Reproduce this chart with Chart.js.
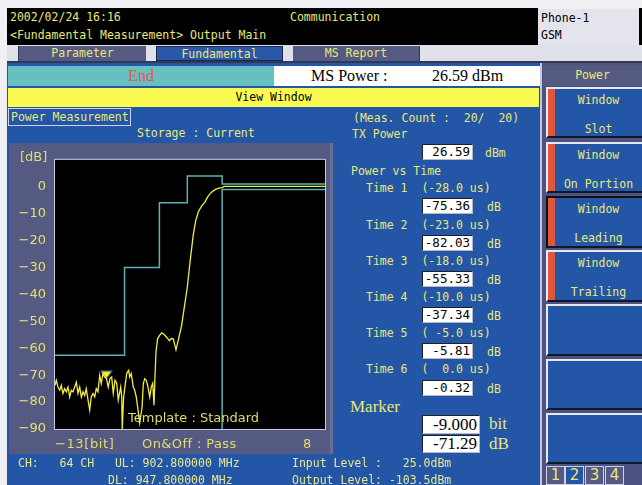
<!DOCTYPE html>
<html>
<head>
<meta charset="utf-8">
<title>Power vs Time</title>
<script src="https://cdn.jsdelivr.net/npm/chart.js@4"></script>
<style>
  html, body { margin: 0; padding: 0; }
  body {
    width: 642px; height: 485px; position: relative; overflow: hidden;
    background: #f0f0f4;
    font-family: "DejaVu Sans Mono", "Liberation Mono", monospace;
    font-size: 11.5px; line-height: 14px;
  }
  .a { position: absolute; white-space: pre; }
  .yl { color: #e8e87a; }
  .box { position: absolute; background: #fff; color: #000; text-align: right;
         box-sizing: border-box; border-top: 1px solid #202020; border-left: 1px solid #202020;
         border-right: 1px solid #b8b8c8; border-bottom: 1px solid #b8b8c8;
         padding-right: 2px; font-size: 12.5px; line-height: 14px; }
  .tab { position: absolute; top: 46px; height: 15px; line-height: 15px; text-align: center;
         color: #e8e87a; box-sizing: border-box; }
  .btn { position: absolute; left: 546px; width: 96px; box-sizing: border-box; background: #2356a6;
         border-top: 2px solid #e8e8f0; border-left: 2px solid #e8e8f0; border-bottom: 2px solid #101828; }
  .btn .strip { position: absolute; left: 0; top: 0; bottom: 0; width: 7px; background: #e0583c; }
  .btn .t1, .btn .t2 { position: absolute; left: 7px; right: 0; text-align: center; color: #e8e87a; }
  .btn .t1 { top: 4px; }
  .btn .t2 { top: 33px; }
  .pg { position: absolute; top: 466px; width: 19px; height: 19px; box-sizing: border-box;
        border: 1px solid #d0d0e0; color: #e8e87a; text-align: center;
        font-family: "DejaVu Sans", sans-serif; font-size: 15px; line-height: 17px; }
  .cl { position: absolute; white-space: pre; color: #e0dc70;
        font-family: "DejaVu Sans", sans-serif; font-size: 13px; line-height: 16px; }
</style>
</head>
<body>

<!-- header -->
<div class="a" style="left:7px;top:8px;width:531px;height:37px;background:#000;"></div>
<div class="a yl" style="left:10px;top:10px;">2002/02/24 16:16</div>
<div class="a yl" style="left:290px;top:10px;">Communication</div>
<div class="a yl" style="left:10px;top:28px;">&lt;Fundamental Measurement&gt; Output Main</div>
<div class="a" style="left:538px;top:9px;width:101px;height:36px;background:#e4e4ec;"></div>
<div class="a" style="left:639px;top:8px;width:3px;height:37px;background:#000;"></div>
<div class="a" style="left:541px;top:11px;color:#000;font-size:11.5px;">Phone-1</div>
<div class="a" style="left:541px;top:28px;color:#000;font-size:11.5px;">GSM</div>

<!-- tab row -->
<div class="a" style="left:7px;top:45px;width:635px;height:17px;background:#e0e0ea;"></div>
<div class="tab" style="left:18px;width:128px;background:#545a82;border-left:1px solid #30345a;">Parameter</div>
<div class="tab" style="left:156px;width:127px;background:#2a58a8;border:1px solid #1a2650;">Fundamental</div>
<div class="tab" style="left:293px;width:127px;background:#545a82;border-right:1px solid #30345a;">MS Report</div>
<div class="a" style="left:7px;top:61px;width:635px;height:2px;background:#34384e;"></div>

<!-- main areas -->
<div class="a" style="left:7px;top:63px;width:535px;height:422px;background:#2356a6;"></div>
<div class="a" style="left:540px;top:63px;width:102px;height:422px;background:#4c5282;"></div>
<div class="a" style="left:540px;top:63px;width:2px;height:422px;background:#c8c8dc;"></div>

<!-- status line -->
<div class="a" style="left:8px;top:66px;width:266px;height:20px;background:#66c0c0;"></div>
<div class="a" style="left:8px;top:66px;width:266px;height:20px;line-height:20px;text-align:center;color:#e05a48;font-family:'Liberation Serif',serif;font-size:16px;">End</div>
<div class="a" style="left:274px;top:66px;width:266px;height:20px;background:#fff;"></div>
<div class="a" style="left:311px;top:66px;line-height:20px;color:#000;font-family:'Liberation Serif',serif;font-size:16px;">MS Power :</div>
<div class="a" style="left:432px;top:66px;line-height:20px;color:#000;font-family:'Liberation Serif',serif;font-size:16px;">26.59 dBm</div>
<div class="a" style="left:543px;top:65px;width:99px;height:21px;line-height:21px;background:#555a82;color:#e8e87a;text-align:center;">Power</div>

<div class="a" style="left:8px;top:88px;width:532px;height:19px;line-height:19px;background:#fafa52;color:#000;text-align:center;box-sizing:border-box;border-right:1px solid #404040;">View Window</div>

<div class="a yl" style="left:8px;top:108px;width:123px;height:18px;line-height:16px;box-sizing:border-box;border:1px solid #d0d0e8;padding-left:2px;">Power Measurement</div>
<div class="a yl" style="left:353px;top:111px;">(Meas. Count :  20/  20)</div>
<div class="a yl" style="left:137px;top:126px;">Storage : Current</div>
<div class="a yl" style="left:352px;top:127px;">TX Power</div>

<!-- plot panel -->
<div class="a" style="left:9px;top:143px;width:324px;height:311px;background:#555a82;"></div>
<div class="a" style="left:330px;top:143px;width:3px;height:311px;background:#6a6e92;"></div>
<canvas id="pvt" class="a" style="left:10px;top:143px;" width="323" height="311"></canvas>
<div class="cl" style="left:20px;top:149px;">[dB]</div>
<div class="cl" style="left:128px;top:410px;">Template : Standard</div>
<div class="cl" style="left:55px;top:436px;letter-spacing:0.6px;">−13[bit]</div>
<div class="cl" style="left:142px;top:436px;letter-spacing:0.4px;">On&amp;Off : Pass</div>
<div class="cl" style="left:303px;top:436px;">8</div>

<!-- readings -->
<div class="box" style="left:422px;top:144px;width:51px;height:16px;">26.59</div>
<div class="a yl" style="left:485px;top:146px;">dBm</div>
<div class="a yl" style="left:351px;top:164px;">Power vs Time</div>

<div class="a yl" style="left:366px;top:181px;">Time 1  (-28.0 us)</div>
<div class="box" style="left:422px;top:198px;width:51px;height:16px;">-75.36</div>
<div class="a yl" style="left:487px;top:200px;">dB</div>
<div class="a yl" style="left:366px;top:218px;">Time 2  (-23.0 us)</div>
<div class="box" style="left:422px;top:235px;width:51px;height:16px;">-82.03</div>
<div class="a yl" style="left:487px;top:237px;">dB</div>
<div class="a yl" style="left:366px;top:254px;">Time 3  (-18.0 us)</div>
<div class="box" style="left:422px;top:271px;width:51px;height:16px;">-55.33</div>
<div class="a yl" style="left:487px;top:273px;">dB</div>
<div class="a yl" style="left:366px;top:290px;">Time 4  (-10.0 us)</div>
<div class="box" style="left:422px;top:307px;width:51px;height:16px;">-37.34</div>
<div class="a yl" style="left:487px;top:309px;">dB</div>
<div class="a yl" style="left:366px;top:326px;">Time 5  ( -5.0 us)</div>
<div class="box" style="left:422px;top:343px;width:51px;height:16px;">-5.81</div>
<div class="a yl" style="left:487px;top:345px;">dB</div>
<div class="a yl" style="left:366px;top:362px;">Time 6  (  0.0 us)</div>
<div class="box" style="left:422px;top:380px;width:51px;height:16px;">-0.32</div>
<div class="a yl" style="left:487px;top:382px;">dB</div>

<div class="a yl" style="left:350px;top:397px;font-family:'Liberation Serif',serif;font-size:17px;line-height:20px;">Marker</div>
<div class="box" style="left:422px;top:415px;width:58px;height:19px;font-family:'Liberation Serif',serif;font-size:17px;line-height:17px;">-9.000</div>
<div class="a yl" style="left:489px;top:414px;font-family:'Liberation Serif',serif;font-size:17px;line-height:20px;">bit</div>
<div class="box" style="left:422px;top:435px;width:58px;height:18px;font-family:'Liberation Serif',serif;font-size:17px;line-height:16px;">-71.29</div>
<div class="a yl" style="left:489px;top:434px;font-family:'Liberation Serif',serif;font-size:17px;line-height:20px;">dB</div>

<!-- channel info -->
<div class="a" style="left:18px;top:456px;color:#e8e890;">CH:   64 CH   UL: 902.800000 MHz</div>
<div class="a" style="left:108px;top:473px;color:#e8e890;">DL: 947.800000 MHz</div>
<div class="a" style="left:292px;top:456px;color:#e8e890;">Input Level :   25.0dBm</div>
<div class="a" style="left:292px;top:473px;color:#e8e890;">Output Level: -103.5dBm</div>

<!-- soft keys -->
<div class="btn" style="top:87px;height:51px;"><div class="strip"></div><div class="t1">Window</div><div class="t2">Slot</div></div>
<div class="btn" style="top:142px;height:51px;"><div class="strip"></div><div class="t1">Window</div><div class="t2">On Portion</div></div>
<div class="btn" style="top:196px;height:52px;border-top-color:#101010;border-left-color:#101010;"><div class="strip"></div><div class="t1">Window</div><div class="t2">Leading</div></div>
<div class="btn" style="top:250px;height:52px;"><div class="strip"></div><div class="t1">Window</div><div class="t2">Trailing</div></div>
<div class="btn" style="top:304px;height:52px;"></div>
<div class="btn" style="top:359px;height:51px;"></div>
<div class="btn" style="top:413px;height:51px;"></div>
<div class="pg" style="left:546px;background:#555a82;">1</div>
<div class="pg" style="left:565px;background:#2356a6;">2</div>
<div class="pg" style="left:585px;background:#555a82;">3</div>
<div class="pg" style="left:605px;background:#555a82;">4</div>

<script>
// Measured burst ramp: time in bits, level relative to TX power in dB
const traceBits = [
  -13.0, -12.90, -12.77, -12.63, -12.51, -12.38, -12.25, -12.12, -11.99, -11.86,
  -11.73, -11.60, -11.47, -11.34, -11.21, -11.08, -10.95, -10.82, -10.69, -10.57,
  -10.43, -10.30, -10.18, -10.04, -9.91, -9.79, -9.66, -9.52, -9.40, -9.27,
  -9.13, -9.00, -8.86, -8.72, -8.59, -8.47, -8.33, -8.20, -8.08, -7.89,
  -7.81, -7.77, -7.66, -7.59, -7.42, -7.27, -7.19, -7.07, -6.91, -6.80,
  -6.68, -6.54, -6.41, -6.23, -6.13, -6.02, -5.90, -5.77, -5.63, -5.51,
  -5.40, -5.30, -5.22, -5.14, -5.02, -4.88, -4.70, -4.55, -4.30, -4.11,
  -3.95, -3.80, -3.59, -3.41, -3.15, -2.95, -2.71, -2.50, -2.25, -2.05,
  -1.85, -1.60, -1.355, -1.10, -0.85, -0.55, -0.25, 0.0, 0.15, 8.0
];
const traceDb = [
  -73.8, -71.9, -74.4, -75.6, -73.8, -76.8, -75.0, -76.2, -74.4, -78.1,
  -75.6, -76.2, -74.4, -72.6, -76.8, -74.4, -78.1, -76.2, -77.5, -75.0,
  -79.3, -83.0, -78.1, -76.8, -78.1, -75.0, -76.2, -70.1, -73.1, -69.4,
  -70.7, -71.29, -74.4, -71.2, -70.7, -76.7, -71.9, -73.0, -79.3, -74.4,
  -78.1, -90.0, -78.1, -75.36, -69.3, -68.2, -70.7, -69.4, -74.5, -75.6,
  -78.1, -83.0, -87.8, -82.03, -73.1, -71.3, -71.9, -74.4, -78.1, -74.4,
  -73.1, -81.2, -70.0, -61.0, -56.5, -55.33, -54.3, -54.7, -56.0, -57.2,
  -56.4, -56.5, -60.6, -57.0, -51.5, -45.0, -37.34, -28.0, -18.0, -12.5,
  -9.3, -7.2, -5.81, -3.6, -2.1, -1.1, -0.55, -0.32, 0.1, 0.1
];

// Standard template limits (bits, dB)
const upperMaskBits = [-13, -7.59, -4.88, -2.71, 0, 8];
const upperMaskDb   = [-62.6, -30, -6, 4, 1, 1];
const lowerMaskBits = [0, 0, 8];
const lowerMaskDb   = [-90, -1, -1];

// Marker reading
const markerBits = [-9.0];
const markerDb   = [-71.29];

// Axis
const bitRange   = [-13, 8];
const dbRange    = [-90, 10];
const yTickValues = [0, -10, -20, -30, -40, -50, -60, -70, -80, -90];

const pairs = (xs, ys) => xs.map((x, i) => ({ x: x, y: ys[i] }));

// Down-pointing marker glyph; its tip sits on the marked point
const markerGlyph = document.createElement('canvas');
markerGlyph.width = 14; markerGlyph.height = 18;
(function () {
  const c = markerGlyph.getContext('2d');
  c.beginPath();
  c.moveTo(1, 1); c.lineTo(13, 1); c.lineTo(7, 9); c.closePath();
  c.lineWidth = 1; c.strokeStyle = '#3a64c0'; c.stroke();
  c.beginPath();
  c.moveTo(2, 1.8); c.lineTo(12, 1.8); c.lineTo(7, 8.2); c.closePath();
  c.fillStyle = '#fbef2c'; c.fill();
})();

const plotFrame = {
  id: 'plotFrame',
  beforeDatasetsDraw(chart) {
    const a = chart.chartArea, ctx = chart.ctx;
    ctx.save();
    ctx.fillStyle = '#000';
    ctx.fillRect(a.left, a.top, a.right - a.left, a.bottom - a.top);
    ctx.restore();
  },
  afterDatasetsDraw(chart) {
    const a = chart.chartArea, ctx = chart.ctx;
    ctx.save();
    ctx.strokeStyle = '#c4c8e0';
    ctx.lineWidth = 1;
    ctx.strokeRect(a.left - 0.5, a.top - 0.5, a.right - a.left + 1, a.bottom - a.top + 1);
    ctx.restore();
  }
};

new Chart(document.getElementById('pvt'), {
  type: 'line',
  data: {
    datasets: [
      {
        label: 'Upper template',
        data: pairs(upperMaskBits, upperMaskDb),
        stepped: 'before',
        borderColor: '#5cb2b4', borderWidth: 1.5,
        pointRadius: 0, fill: false
      },
      {
        label: 'Lower template',
        data: pairs(lowerMaskBits, lowerMaskDb),
        borderColor: '#5cb2b4', borderWidth: 1.5,
        pointRadius: 0, fill: false
      },
      {
        label: 'Power',
        data: pairs(traceBits, traceDb),
        borderColor: '#f2ee3c', borderWidth: 1.3,
        pointRadius: 0, tension: 0, fill: false
      },
      {
        label: 'Marker',
        data: pairs(markerBits, markerDb),
        showLine: false,
        pointStyle: markerGlyph,
        pointRadius: 7
      }
    ]
  },
  options: {
    responsive: false,
    animation: false,
    events: [],
    layout: { padding: { left: 0, right: 8, top: 14, bottom: 25 } },
    plugins: { legend: { display: false }, tooltip: { enabled: false } },
    scales: {
      x: {
        type: 'linear', min: bitRange[0], max: bitRange[1],
        display: false
      },
      y: {
        type: 'linear', min: dbRange[0], max: dbRange[1],
        grid: { display: false, drawTicks: false },
        border: { display: false },
        afterBuildTicks: s => { s.ticks = yTickValues.map(v => ({ value: v })); },
        afterFit: s => { s.width = 45; },
        ticks: {
          color: '#e4e070',
          padding: 9,
          font: { family: 'DejaVu Sans', size: 13 },
          callback: v => String(v).replace('-', '\u2212')
        }
      }
    }
  },
  plugins: [plotFrame]
});
</script>
</body>
</html>
